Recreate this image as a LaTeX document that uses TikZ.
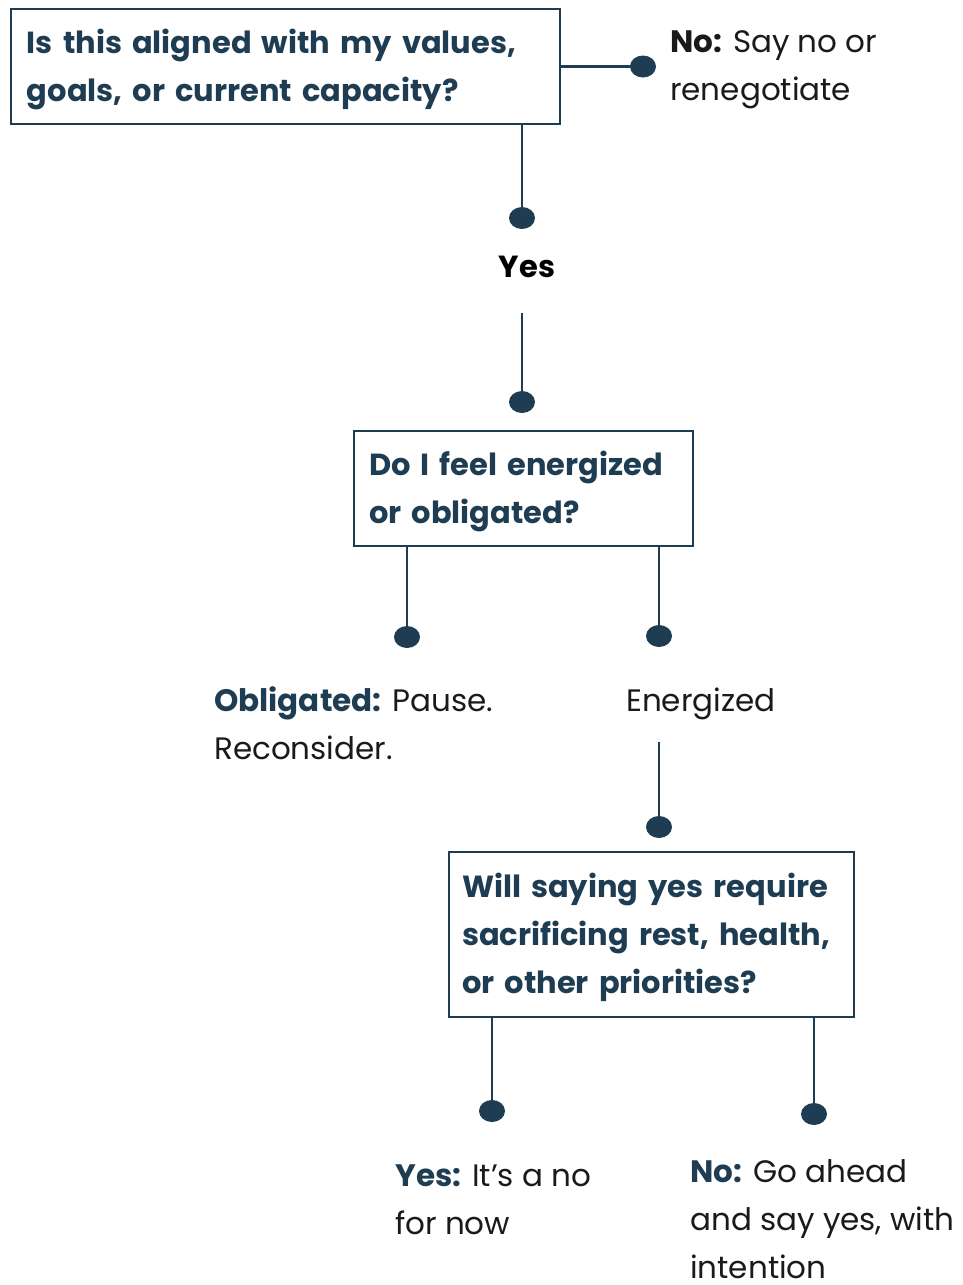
\documentclass[tikz,border=0pt]{standalone}
\usepackage{fontspec}
\setmainfont{Poppins}
\usepackage{xcolor}
\usetikzlibrary{shapes.geometric}
\definecolor{navy}{RGB}{31,61,82}
\definecolor{ink}{RGB}{26,26,26}

\begin{document}
\begin{tikzpicture}[x=1pt, y=-1pt,
  qbox/.style={draw=navy, line width=2.4pt, fill=white, align=left, text=navy, inner ysep=0pt, text height=31pt,
    font=\fontsize{30.5}{48}\selectfont\bfseries, anchor=center},
  dot/.style={ellipse, fill=navy, draw=none, minimum width=26pt, minimum height=22pt, inner sep=0pt},
  lbl/.style={anchor=base west, align=left, text=ink, inner sep=0pt, font=\fontsize{31}{48}\selectfont},
  link/.style={draw=navy, line width=2.4pt}]
\useasboundingbox (0,0) rectangle (962,1285);
% questions
\node[qbox, minimum width=549pt, minimum height=115pt, text width=517pt, inner xsep=16pt] (q1) at (285.5,66.5)
  {Is this aligned with my values,\\goals, or current capacity?};
\node[qbox, minimum width=339pt, minimum height=115pt, text width=309pt, inner xsep=15pt] (q2) at (523.5,488.5)
  {Do I feel energized\\or obligated?};
\node[qbox, minimum width=405pt, minimum height=165pt, text width=379pt, inner xsep=13pt] (q3) at (651.5,934.5)
  {Will saying yes require\\sacrificing rest, health,\\or other priorities?};
% dots
\node[dot] (d1) at (643,66.5) {};
\node[dot] (d2) at (522,218) {};
\node[dot] (d3) at (522,402) {};
\node[dot] (d4) at (407,637) {};
\node[dot] (d5) at (659,636) {};
\node[dot] (d6) at (659,827) {};
\node[dot] (d7) at (492,1111) {};
\node[dot] (d8) at (814,1114) {};
% answers
\node[lbl] (no1) at (670,100) {\textbf{No:} Say no or\\renegotiate};
\node[lbl, anchor=base, text=black, font=\fontsize{30.5}{48}\selectfont\bfseries] (yes1) at (527,277) {Yes};
\node[lbl] (obl) at (214,759) {\textcolor{navy}{\textbf{Obligated:}} Pause.\\Reconsider.};
\node[lbl] (ene) at (626,711) {Energized};
\node[lbl] (yes2) at (395,1234) {\textcolor{navy}{\textbf{Yes:}} It’s a no\\for now};
\node[lbl] (no2) at (690,1278) {\textcolor{navy}{\textbf{No:}} Go ahead\\and say yes, with\\intention};
\coordinate (c3) at (522,313);
\coordinate (c6) at (659,742);
% connectors
\draw[link] (q1.east) -- (d1);
\draw[link] (q1.south -| d2) -- (d2);
\draw[link] (c3) -- (d3);
\draw[link] (q2.south -| d4) -- (d4);
\draw[link] (q2.south -| d5) -- (d5);
\draw[link] (c6) -- (d6);
\draw[link] (q3.south -| d7) -- (d7);
\draw[link] (q3.south -| d8) -- (d8);
\end{tikzpicture}
\end{document}
